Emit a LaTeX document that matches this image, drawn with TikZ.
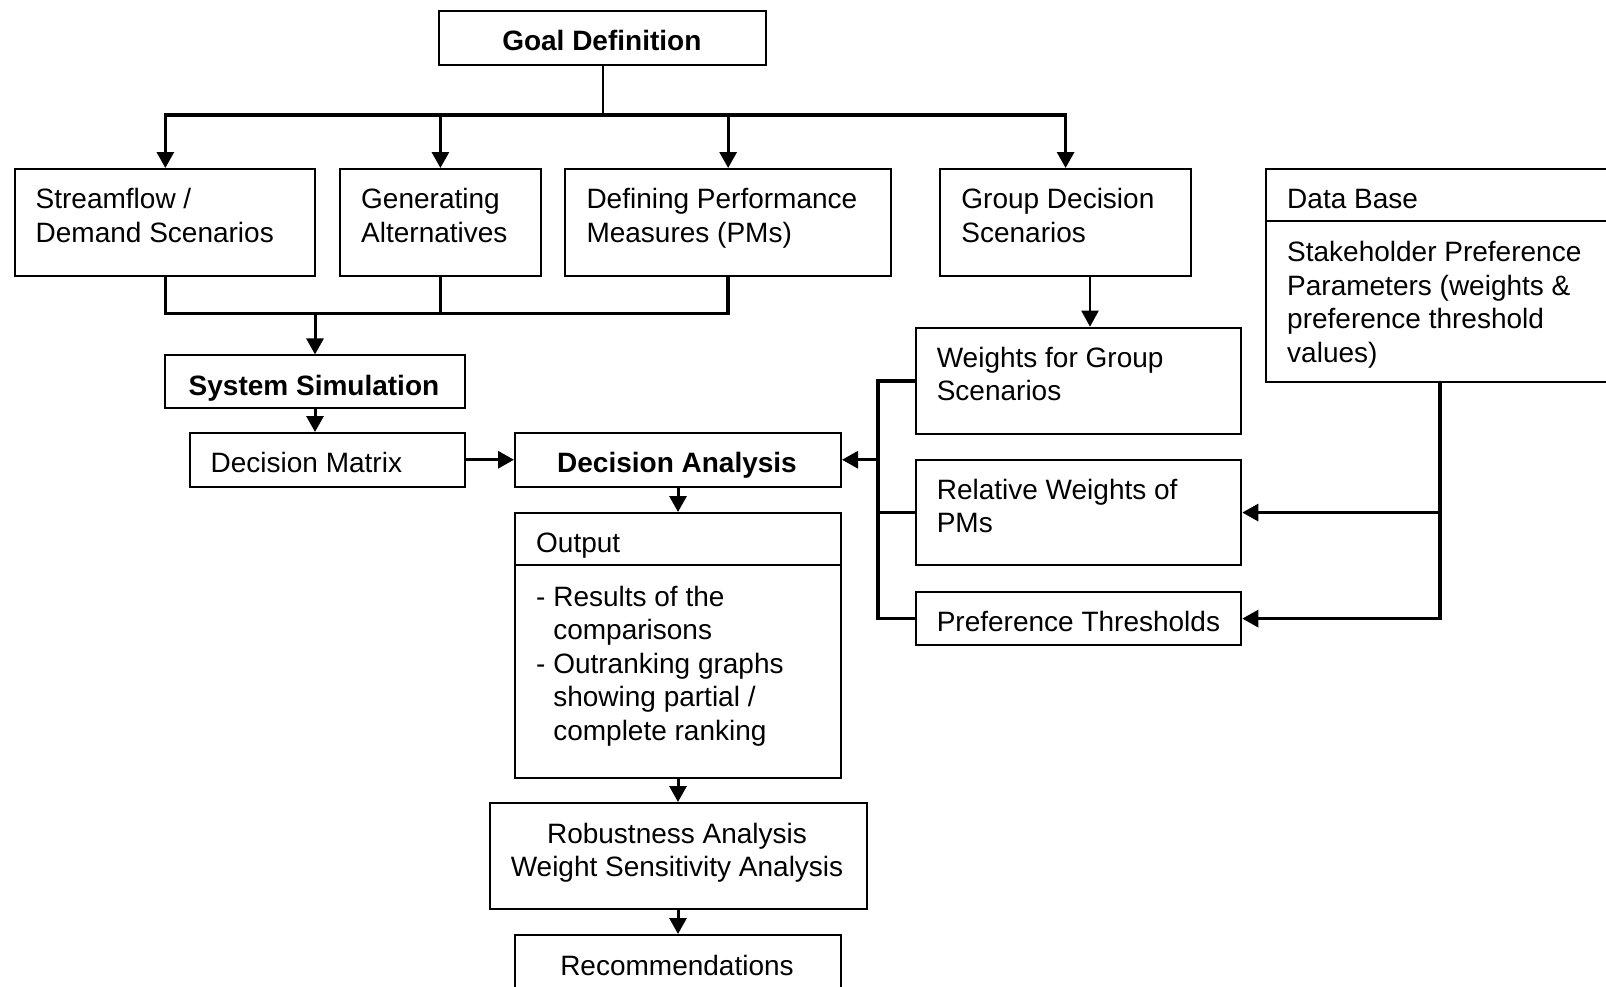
\documentclass[tikz,border=0pt]{standalone}
\usepackage{fontspec}
\setmainfont{Liberation Sans}
\usetikzlibrary{arrows.meta,calc}
\newcommand{\ctrline}[2]{\hbox to #1{\hfil #2\hfil}}
\begin{document}
\begin{tikzpicture}[x=1pt,y=-1pt,
  box/.style={draw, line width=2pt, inner sep=0pt, anchor=north west},
  txt/.style={inner sep=0pt, font=\fontsize{28}{33.5}\selectfont},
  btxt/.style={txt, font=\fontsize{28}{33.5}\selectfont\bfseries},
  conn/.style={line width=3pt, line cap=rect},
  bus/.style={line width=3.6pt, line cap=rect},
  thinc/.style={line width=2pt},
  tip/.style={-{Triangle[length=16pt,width=17pt]}},
  arr/.style={conn, tip}]
\useasboundingbox (0,0) rectangle (1606,986);
% ---------- boxes ----------
\node[box, minimum width=326.7pt, minimum height=53.3pt] (goal) at (438.4,10.2) {};
\node[btxt, anchor=base] (goalt) at (601.8,50.7) {Goal Definition};

\node[box, minimum width=300.1pt, minimum height=106.5pt] (sf) at (14.3,168) {};
\node[txt, anchor=base west] (sft) at (35.5,208.5) {\vtop{\hbox{Streamflow /}\hbox{Demand Scenarios}}};
\node[box, minimum width=200.8pt, minimum height=106.5pt] (ga) at (339,168) {};
\node[txt, anchor=base west] (gat) at (361,208.5) {\vtop{\hbox{Generating}\hbox{Alternatives}}};
\node[box, minimum width=325.7pt, minimum height=106.5pt] (pm) at (564.3,168) {};
\node[txt, anchor=base west] (pmt) at (586.3,208.5) {\vtop{\hbox{Defining Performance}\hbox{Measures (PMs)}}};
\node[box, minimum width=250.8pt, minimum height=106.5pt] (gd) at (939.2,168) {};
\node[txt, anchor=base west] (gdt) at (961.2,208.5) {\vtop{\hbox{Group Decision}\hbox{Scenarios}}};
\node[box, minimum width=360pt, minimum height=213pt] (db) at (1265,168) {};
\draw[line width=2pt] ($(db.north west)+(0,53.2)$) -- ($(db.north east)+(0,53.2)$);
\node[txt, anchor=base west] (dbt) at (1287,208.5) {Data Base};
\node[txt, anchor=base west] (dbb) at (1287,261.5) {\vtop{\hbox{Stakeholder Preference}\hbox{Parameters (weights \&}\hbox{preference threshold}\hbox{values)}}};

\node[box, minimum width=300pt, minimum height=52.2pt] (sys) at (164,354.4) {};
\node[btxt, anchor=base] (syst) at (314,395) {System Simulation};
\node[box, minimum width=275.5pt, minimum height=53.5pt] (dm) at (188.5,432) {};
\node[txt, anchor=base west] (dmt) at (210.5,472.5) {Decision Matrix};
\node[box, minimum width=326pt, minimum height=53.5pt] (da) at (514,432) {};
\node[btxt, anchor=base] (dat) at (677,472.5) {Decision Analysis};

\node[box, minimum width=326pt, minimum height=264.5pt] (out) at (514,512) {};
\draw[line width=2pt] ($(out.north west)+(0,52.5)$) -- ($(out.north east)+(0,52.5)$);
\node[txt, anchor=base west] (outt) at (536,552.5) {Output};
\node[txt, anchor=base west] (outb) at (536,606) {\vtop{\hbox{- Results of the}\hbox{\phantom{- }comparisons}\hbox{- Outranking graphs}\hbox{\phantom{- }showing partial /}\hbox{\phantom{- }complete ranking}}};

\node[box, minimum width=377pt, minimum height=105.5pt] (rob) at (488.5,802) {};
\node[txt, anchor=base] (robt) at (677,843) {\vtop{\ctrline{377pt}{Robustness Analysis}\ctrline{377pt}{Weight Sensitivity Analysis}}};
\node[box, minimum width=326pt, minimum height=70pt] (rec) at (514,934) {};
\node[txt, anchor=base] (rect) at (677,975) {Recommendations};

\node[box, minimum width=325.7pt, minimum height=106.5pt] (wts) at (914.6,326.7) {};
\node[txt, anchor=base west] (wtst) at (936.6,367) {\vtop{\hbox{Weights for Group}\hbox{Scenarios}}};
\node[box, minimum width=325.7pt, minimum height=105.5pt] (rel) at (914.6,458.8) {};
\node[txt, anchor=base west] (relt) at (936.6,499.3) {\vtop{\hbox{Relative Weights of}\hbox{PMs}}};
\node[box, minimum width=325.7pt, minimum height=53.2pt] (pref) at (914.6,591) {};
\node[txt, anchor=base west] (preft) at (936.6,631.5) {Preference Thresholds};

% ---------- helper coordinates ----------
\coordinate (b1) at (0,114.7);
\coordinate (b2) at (0,313.4);
\coordinate (xg) at (1090,0);
\coordinate (xc) at (877.7,0);
\coordinate (xd) at (1440,0);

% ---------- connectors ----------
\draw[thinc] (goal.south) -- (goal.south |- b1);
\draw[bus] (sf.north |- b1) -- (gd.north |- b1);
\draw[arr] (sf.north |- b1) -- (sf.north);
\draw[arr] (ga.north |- b1) -- (ga.north);
\draw[arr] (pm.north |- b1) -- (pm.north);
\draw[arr] (gd.north |- b1) -- (gd.north);

\draw[bus, line cap=butt, line join=miter] (sf.south) -- (sf.south |- b2) -- (pm.south |- b2) -- (pm.south);
\draw[conn, line cap=butt] (ga.south) -- (ga.south |- b2);
\draw[arr] (sys.north |- b2) -- (sys.north);

\draw[arr] (sys.south) -- (sys.south |- dm.north);
\draw[arr] (dm.east) -- (da.west);
\draw[arr] (da.south) -- (out.north);
\draw[arr] (out.south) -- (rob.north);
\draw[arr] (rob.south) -- (rec.north);

\draw[thinc, tip] (gd.south -| xg) -- (wts.north -| xg);

\draw[bus, line cap=butt, line join=miter] (wts.west) -- (wts.west -| xc) -- (pref.west -| xc) -- (pref.west);
\draw[conn, line cap=butt] (rel.west -| xc) -- (rel.west);
\draw[arr] (da.east -| xc) -- (da.east);

\draw[bus, line cap=butt, line join=miter] (db.south -| xd) -- (pref.east -| xd) -- ($(pref.east)+(16,0)$);
\draw[arr] (pref.east -| xd) -- (pref.east);
\draw[arr] (rel.east -| xd) -- (rel.east);
\end{tikzpicture}
\end{document}
